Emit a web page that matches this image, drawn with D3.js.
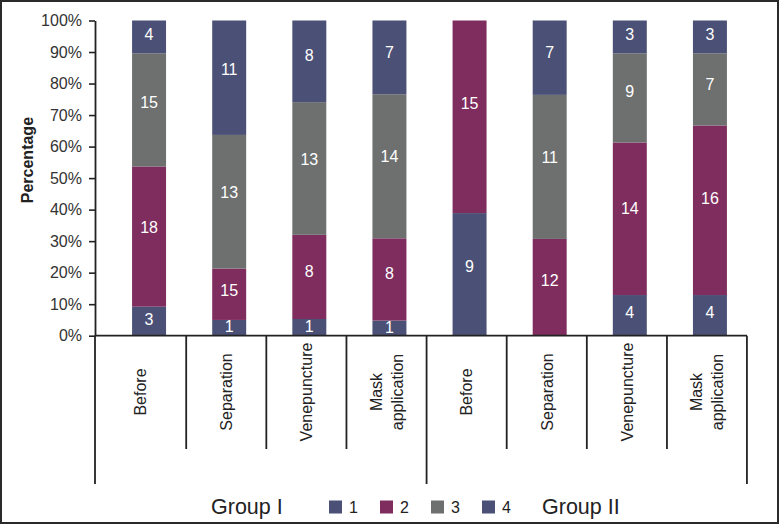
<!DOCTYPE html>
<html><head><meta charset="utf-8">
<script src="https://cdn.jsdelivr.net/npm/d3@7"></script>
<style>
body{margin:0;background:#fff}
text{font-family:"Liberation Sans",Arial,Helvetica,sans-serif}
</style>
</head><body>
<svg id="chart" width="779" height="524"></svg>
<script>
// ---- data ----
const groups = ["Group I", "Group II"];
const categories = ["Before", "Separation", "Venepuncture", "Mask application"];
const seriesNames = ["1", "2", "3", "4"];
// visual share of each bar (percent), in bar order: G1 x4 categories, then G2 x4
const share1 = [9.2, 5.0, 5.3, 4.8, 38.9, 0, 12.9, 12.9];
const share2 = [44.5, 16.3, 26.7, 26.1, 61.1, 30.7, 48.4, 53.8];
const share3 = [35.9, 42.4, 42.1, 45.7, 0, 45.7, 28.3, 22.9];
const share4 = [10.4, 36.3, 25.9, 23.4, 0, 23.6, 10.4, 10.4];
// printed count labels
const count1 = [3, 1, 1, 1, 9, null, 4, 4];
const count2 = [18, 15, 8, 8, 15, 12, 14, 16];
const count3 = [15, 13, 13, 14, null, 11, 9, 7];
const count4 = [4, 11, 8, 7, null, 7, 3, 3];
const yTicks = [0, 10, 20, 30, 40, 50, 60, 70, 80, 90, 100];
const colors = ["#4b5176", "#7e2d5e", "#6d706f", "#4b5176"];

// ---- build ----
const svg = d3.select("#chart");
const W = 779, H = 524;
svg.append("rect").attr("x", 1).attr("y", 1).attr("width", W - 2).attr("height", H - 2)
  .attr("fill", "#fff").attr("stroke", "#2a2a2a").attr("stroke-width", 2);

const keys = [];
groups.forEach(g => categories.forEach(c => keys.push(g + "|" + c)));
const shares = [share1, share2, share3, share4];
const counts = [count1, count2, count3, count4];
const rows = keys.map((k, i) => {
  const r = {key: k};
  seriesNames.forEach((s, j) => r[s] = shares[j][i]);
  return r;
});
const stack = d3.stack().keys(seriesNames)(rows);

const x = d3.scaleBand().domain(keys).range([109, 750]).paddingInner(0.576).paddingOuter(0.288);
const y = d3.scaleLinear().domain([0, 100]).range([335.7, 20.5]);
const axisX = 95, axisEnd = 747;

// bars
stack.forEach((layer, j) => {
  const g = svg.append("g");
  g.selectAll("rect").data(layer).join("rect")
    .attr("x", d => x(d.data.key))
    .attr("width", x.bandwidth())
    .attr("y", d => y(d[1]))
    .attr("height", d => y(d[0]) - y(d[1]))
    .attr("fill", colors[j]);
  g.selectAll("text").data(layer.map((d, i) => ({d, i})).filter(o => counts[j][o.i] != null))
    .join("text")
    .attr("x", o => x(o.d.data.key) + x.bandwidth() / 2)
    .attr("y", o => {
      const h = y(o.d[0]) - y(o.d[1]);
      return (y(o.d[0]) + y(o.d[1])) / 2 - 0.07 * h;
    })
    .attr("dy", "0.36em")
    .attr("text-anchor", "middle")
    .attr("fill", "#fff")
    .attr("font-size", 16)
    .text(o => counts[j][o.i]);
});

// y axis
const yAxis = d3.axisLeft(y).tickValues(yTicks).tickFormat(d => d + "%")
  .tickSize(6).tickSizeOuter(0).tickPadding(7);
const ya = svg.append("g").attr("transform", `translate(${axisX},0)`).call(yAxis);
ya.select(".domain").attr("stroke", "#222").attr("stroke-width", 1.8);
ya.selectAll(".tick line").attr("stroke", "#222").attr("stroke-width", 1.6);
ya.selectAll(".tick text").attr("font-size", 16).attr("fill", "#333")
  .attr("font-family", '"Liberation Sans",Arial,sans-serif');

svg.append("text")
  .attr("transform", `translate(33,${(y(0) + y(100)) / 2 - 18}) rotate(-90)`)
  .attr("text-anchor", "middle").attr("font-size", 16).attr("font-weight", "bold")
  .attr("fill", "#222").text("Percentage");

// x axis line
svg.append("line").attr("x1", axisX).attr("x2", axisEnd).attr("y1", y(0)).attr("y2", y(0))
  .attr("stroke", "#222").attr("stroke-width", 1.8);

// dividers
const divs = keys.map((k, i) => i === 0 ? axisX : x(k) - 26);
divs.push(x(keys[keys.length - 1]) + x.bandwidth() + 20);
divs.forEach((dx, i) => {
  const long = (i % categories.length === 0);
  svg.append("line").attr("x1", dx).attr("x2", dx).attr("y1", y(0))
    .attr("y2", long ? 484 : 449).attr("stroke", "#222").attr("stroke-width", 1.8);
});

// category labels
keys.forEach((k, i) => {
  const cx = (divs[i] + divs[i + 1]) / 2;
  const label = k.split("|")[1];
  const words = label === "Mask application" ? ["Mask", "application"] : [label];
  const t = svg.append("text")
    .attr("transform", `translate(${cx},392) rotate(-90)`)
    .attr("text-anchor", "middle").attr("font-size", 16).attr("fill", "#222");
  words.forEach((w, wi) => {
    t.append("tspan").attr("x", 0)
      .attr("y", (wi - (words.length - 1) / 2) * 20.5)
      .attr("dy", "0.36em").text(w);
  });
});

// legend
svg.append("text").attr("x", 211).attr("y", 514).attr("font-size", 21.5).attr("fill", "#222").text(groups[0]);
seriesNames.forEach((s, i) => {
  const lx = 329 + i * 51;
  svg.append("rect").attr("x", lx).attr("y", 500.5).attr("width", 13).attr("height", 13).attr("fill", colors[i]);
  svg.append("text").attr("x", lx + 20).attr("y", 513).attr("font-size", 16).attr("fill", "#222").text(s);
});
svg.append("text").attr("x", 542).attr("y", 514).attr("font-size", 21.5).attr("fill", "#222").text(groups[1]);
</script>
</body></html>
